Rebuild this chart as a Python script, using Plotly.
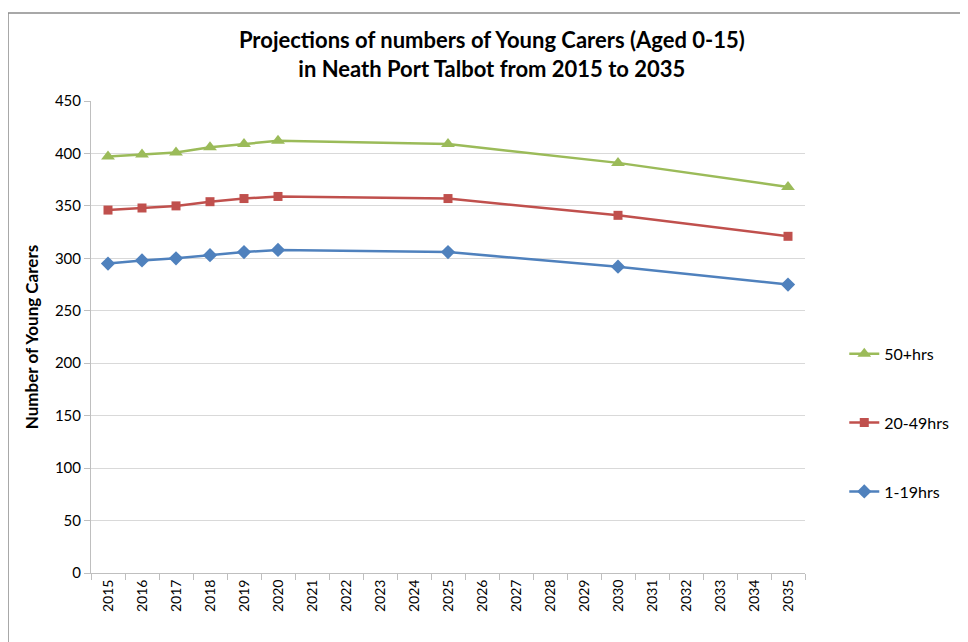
import plotly.graph_objects as go

years = [2015, 2016, 2017, 2018, 2019, 2020, 2025, 2030, 2035]
hrs_1_19 = [295, 298, 300, 303, 306, 308, 306, 292, 275]
hrs_20_49 = [346, 348, 350, 354, 357, 359, 357, 341, 321]
hrs_50_plus = [397, 399, 401, 406, 409, 412, 409, 391, 368]
tick_years = list(range(2015, 2036))

FONT = "Lato, 'Open Sans', sans-serif"

fig = go.Figure()
fig.add_trace(go.Scatter(x=years, y=hrs_50_plus, name="50+hrs", mode="lines+markers",
                         legendgroup="c",
                         line=dict(color="#9BBB59", width=2.5),
                         marker=dict(symbol="triangle-up", size=12, color="#9BBB59")))
fig.add_trace(go.Scatter(x=years, y=hrs_20_49, name="20-49hrs", mode="lines+markers",
                         legendgroup="b",
                         line=dict(color="#C0504D", width=2.5),
                         marker=dict(symbol="square", size=9, color="#C0504D")))
fig.add_trace(go.Scatter(x=years, y=hrs_1_19, name="1-19hrs", mode="lines+markers",
                         legendgroup="a",
                         line=dict(color="#4F81BD", width=2.5),
                         marker=dict(symbol="diamond", size=11, color="#4F81BD")))

fig.update_layout(
    width=960, height=634,
    paper_bgcolor="white", plot_bgcolor="white",
    margin=dict(l=83, r=163, t=93, b=69),
    font=dict(family=FONT, size=13, color="#000000"),
    title=dict(text="<b>Projections of numbers of Young Carers (Aged 0-15)<br>in Neath Port Talbot from 2015 to 2035</b>",
               x=0.504, xanchor="center", y=0.937, yanchor="top",
               font=dict(family=FONT, size=22, color="#000000")),
    showlegend=True,
    legend=dict(x=1.055, xanchor="left", y=0.318, yanchor="middle",
                traceorder="grouped", tracegroupgap=45,
                font=dict(family=FONT, size=16), itemwidth=30),
    xaxis=dict(range=[2014.5, 2035.5], tickmode="array", tickvals=tick_years,
               ticktext=[str(y) for y in tick_years], tickangle=-90,
               ticks="", showgrid=False, showline=True, linecolor="#BFBFBF", linewidth=1,
               tickfont=dict(family=FONT, size=14),
               minor=dict(tickmode="linear", tick0=2014.5, dtick=1, ticks="outside",
                          ticklen=6, tickcolor="#BFBFBF", showgrid=False)),
    yaxis=dict(range=[0, 450], tickvals=list(range(0, 451, 50)),
               showgrid=True, gridcolor="#D9D9D9", gridwidth=1.3,
               showline=True, linecolor="#BFBFBF", linewidth=1,
               ticks="outside", ticklen=6, tickcolor="#BFBFBF",
               zeroline=False,
               tickfont=dict(family=FONT, size=15),
               title=dict(text="<b>Number of Young Carers</b>", standoff=11,
                          font=dict(family=FONT, size=17))),
)

fig.add_shape(type="rect", xref="paper", yref="paper", x0=-83/714, x1=1.5, y0=-0.5, y1=1 + 88/472,
              line=dict(color="#8C8C8C", width=1.5))

fig.write_html("out.html")
